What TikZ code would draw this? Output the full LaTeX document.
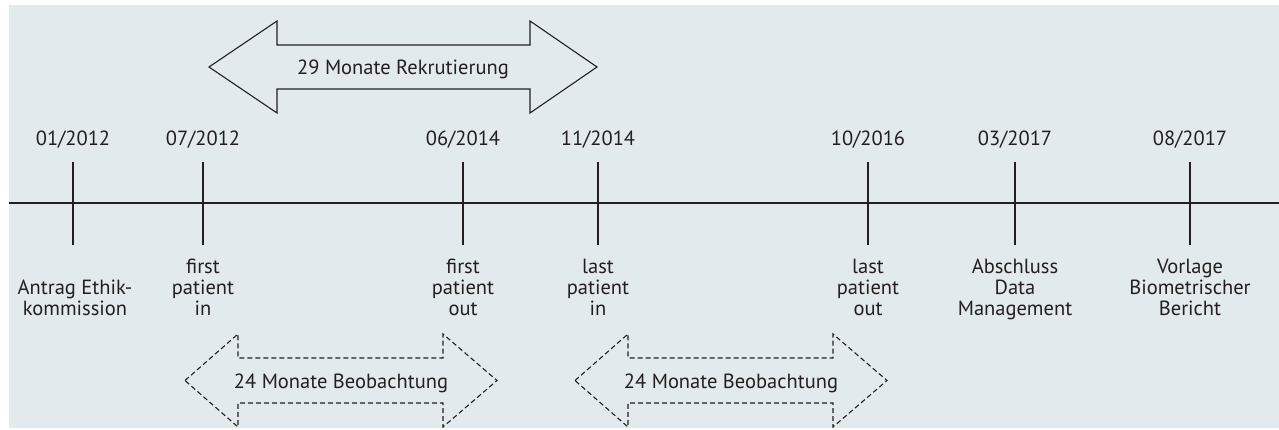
\documentclass[tikz,border=0pt]{standalone}
\usepackage{fontspec}
\setmainfont{PT Sans}
\definecolor{bg}{RGB}{227,234,237}
\definecolor{ink}{RGB}{35,31,32}
\begin{document}
\begin{tikzpicture}[x=1pt,y=-1pt,
  lbl/.style={inner sep=0pt, text=ink, font=\fontsize{20.5}{21.2}\selectfont, align=center},
  tick/.style={draw=ink, line width=1.1pt},
  axis/.style={draw=ink, line width=1.4pt},
  solidarrow/.style={draw=ink, line width=1.1pt, line join=miter},
  dasharrow/.style={draw=ink, line width=1.1pt, dash pattern=on 5pt off 3pt}]
\useasboundingbox (0,0) rectangle (1279,430);
\fill[bg] (9,5) rectangle (1279,428);
% axis
\coordinate (axL) at (9,203);
\coordinate (axR) at (1279,203);
\draw[axis] (axL) -- (axR);
% ticks, dates and descriptions
\foreach \n/\x/\d in {1/73/01\slash 2012, 2/203/07\slash 2012, 3/463/06\slash 2014, 4/598/11\slash 2014, 5/868/10\slash 2016, 6/1015/03\slash 2017, 7/1190/08\slash 2017}{
  \coordinate (tt\n) at (\x,162);
  \coordinate (tb\n) at (\x,245);
  \draw[tick] (tt\n) -- (tb\n);
  \node[lbl, anchor=base] (date\n) at (\x,146) {\d};
}
\node[lbl, anchor=base] (desc1) at (75,316) {Antrag Ethik-\\kommission};
\node[lbl, anchor=base] (desc2) at (203,316) {first\\patient\\in};
\node[lbl, anchor=base] (desc3) at (463,316) {first\\patient\\out};
\node[lbl, anchor=base] (desc4) at (598,316) {last\\patient\\in};
\node[lbl, anchor=base] (desc5) at (868,316) {last\\patient\\out};
\node[lbl, anchor=base] (desc6) at (1015,316) {Abschluss\\Data\\Management};
\node[lbl, anchor=base] (desc7) at (1190,316) {Vorlage\\Biometrischer\\Bericht};
% recruitment arrow
\draw[solidarrow] (209,67) -- (277,21) -- (277,45) -- (530,45) -- (530,21) -- (597,67)
  -- (530,113) -- (530,89) -- (277,89) -- (277,113) -- cycle;
\node[lbl, anchor=base] (rekr) at (403,75) {29 Monate Rekrutierung};
% observation arrows
\draw[dasharrow] (185,380.5) -- (238,334) -- (238,358) -- (443,358) -- (443,334) -- (497,380.5)
  -- (443,427) -- (443,403) -- (238,403) -- (238,427) -- cycle;
\node[lbl, anchor=base] (beob1) at (341,388) {24 Monate Beobachtung};
\draw[dasharrow] (575,380.5) -- (628,334) -- (628,358) -- (833,358) -- (833,334) -- (887,380.5)
  -- (833,427) -- (833,403) -- (628,403) -- (628,427) -- cycle;
\node[lbl, anchor=base] (beob2) at (731,388) {24 Monate Beobachtung};
\end{tikzpicture}
\end{document}
